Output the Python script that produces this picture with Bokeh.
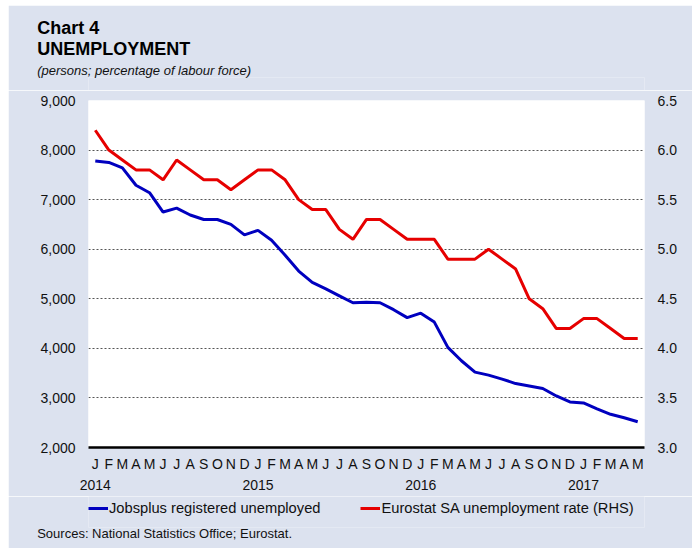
from bokeh.plotting import figure
from bokeh.layouts import column
from bokeh.models import (Range1d, LinearAxis, FixedTicker, NumeralTickFormatter,
                          Title, Legend, LegendItem)
from bokeh.embed import file_html
from bokeh.resources import INLINE

# ---------------- data ----------------
month_letters = ["J", "F", "M", "A", "M", "J", "J", "A", "S", "O", "N", "D"]
start_year = 2014

jobsplus = [7780, 7750, 7640, 7290, 7140, 6750, 6830, 6690, 6600, 6600,
            6500, 6290, 6380, 6180, 5880, 5560, 5330, 5200, 5060, 4920,
            4930, 4920, 4780, 4620, 4710, 4530, 4020, 3750, 3520, 3460,
            3380, 3290, 3240, 3190, 3040, 2920, 2900, 2780, 2670, 2600, 2520]

eurostat = [6.2, 6.0, 5.9, 5.8, 5.8, 5.7, 5.9, 5.8, 5.7, 5.7,
            5.6, 5.7, 5.8, 5.8, 5.7, 5.5, 5.4, 5.4, 5.2, 5.1,
            5.3, 5.3, 5.2, 5.1, 5.1, 5.1, 4.9, 4.9, 4.9, 5.0,
            4.9, 4.8, 4.5, 4.4, 4.2, 4.2, 4.3, 4.3, 4.2, 4.1, 4.1]

left_ticks = [2000, 3000, 4000, 5000, 6000, 7000, 8000, 9000]
right_ticks = [3.0, 3.5, 4.0, 4.5, 5.0, 5.5, 6.0, 6.5]

series_names = ["Jobsplus registered unemployed", "Eurostat SA unemployment rate (RHS)"]
title1 = "Chart 4"
title2 = "UNEMPLOYMENT"
subtitle = "(persons; percentage of labour force)"
source = "Sources: National Statistics Office; Eurostat."

x = list(range(len(jobsplus)))
tick_labels = {}
for i in x:
    lab = month_letters[i % 12]
    if i % 12 == 0:
        lab += "\n" + str(start_year + i // 12)
    tick_labels[i] = lab

# ---------------- style ----------------
BG = "#dce2ef"
BLUE = "#0000bf"
RED = "#e60000"
FONT = "Liberation Sans"
W = 684


def blank_fig(height, top, bottom):
    f = figure(width=W, height=height, output_backend="svg", toolbar_location=None,
               x_range=Range1d(0, 1), y_range=Range1d(0, 1),
               x_axis_type=None, y_axis_type=None,
               min_border_left=80, min_border_right=48,
               min_border_top=top, min_border_bottom=bottom)
    f.background_fill_color = BG
    f.border_fill_color = BG
    f.outline_line_color = None
    return f


# ---------------- header (titles stacked upward from the frame) ----------------
top = blank_fig(85, 72, 0)
top.add_layout(Title(text=subtitle, align="left", offset=-51.3, standoff=0,
                     text_font=FONT, text_font_size="13px", text_font_style="italic",
                     text_color="#111111"), "above")
top.add_layout(Title(text=title2, align="left", offset=-51.3, standoff=3,
                     text_font=FONT, text_font_size="18px", text_font_style="bold",
                     text_color="black"), "above")
top.add_layout(Title(text=title1, align="left", offset=-51.3, standoff=-4,
                     text_font=FONT, text_font_size="18px", text_font_style="bold",
                     text_color="black"), "above")

# ---------------- main chart ----------------
p = figure(frame_width=556, frame_height=347, output_backend="svg", toolbar_location=None,
           x_range=Range1d(-0.5, len(x) - 0.5),
           y_range=Range1d(left_ticks[0], left_ticks[-1]),
           min_border_left=80, min_border_right=48, min_border_top=10,
           min_border_bottom=46)
p.border_fill_color = BG
p.background_fill_color = "white"
p.outline_line_color = None
p.extra_y_ranges = {"right": Range1d(right_ticks[0], right_ticks[-1])}

p.yaxis.ticker = FixedTicker(ticks=left_ticks)
p.yaxis.formatter = NumeralTickFormatter(format="0,0")
p.xaxis.ticker = FixedTicker(ticks=x)
p.xaxis.major_label_overrides = tick_labels

rax = LinearAxis(y_range_name="right", ticker=FixedTicker(ticks=right_ticks),
                 formatter=NumeralTickFormatter(format="0.0"))
p.add_layout(rax, "right")

for ax in [p.yaxis[0], rax]:
    ax.axis_line_color = None
    ax.major_label_standoff = 13

for ax in [p.yaxis[0], rax, p.xaxis[0]]:
    ax.major_tick_line_color = None
    ax.minor_tick_line_color = None
    ax.major_tick_out = 0
    ax.major_tick_in = 0
    ax.major_label_text_font = FONT
    ax.major_label_text_font_size = "14px"
    ax.major_label_text_color = "#111111"

p.xaxis.axis_line_color = "black"
p.xaxis.axis_line_width = 2.5
p.xaxis.major_label_standoff = 8
p.xaxis.major_label_text_line_height = 1.35

p.xgrid.grid_line_color = None
p.ygrid.grid_line_color = "#555555"
p.ygrid.grid_line_dash = "2 2"
p.ygrid.grid_line_width = 1

p.line(x, jobsplus, line_color=BLUE, line_width=3)
p.line(x, eurostat, y_range_name="right", line_color=RED, line_width=3)

# ---------------- legend + sources ----------------
bot = blank_fig(52, 0, 21)
# single-point (off-range) renderers only to carry the legend swatches
k1 = bot.line([x[0]], [jobsplus[0]], line_color=BLUE, line_width=3)
k2 = bot.line([x[0]], [eurostat[0]], line_color=RED, line_width=3)
leg = Legend(items=[LegendItem(label=series_names[0], renderers=[k1]),
                    LegendItem(label=series_names[1], renderers=[k2])],
             location=(0, 11.5), orientation="horizontal", padding=0, margin=0,
             spacing=40, background_fill_alpha=0, border_line_color=None,
             glyph_width=20, glyph_height=16, label_standoff=1,
             label_text_font=FONT, label_text_font_size="14.7px",
             label_text_color="#111111")
bot.add_layout(leg)
bot.add_layout(Title(text=source, align="left", offset=-51.3, standoff=-3,
                     vertical_align="top",
                     text_font=FONT, text_font_size="13px", text_font_style="normal",
                     text_color="#111111"), "below")

layout = column(top, p, bot, spacing=0)
layout.margin = (5, 0, 0, 8)

open("out.html", "w").write(file_html(layout, INLINE))
